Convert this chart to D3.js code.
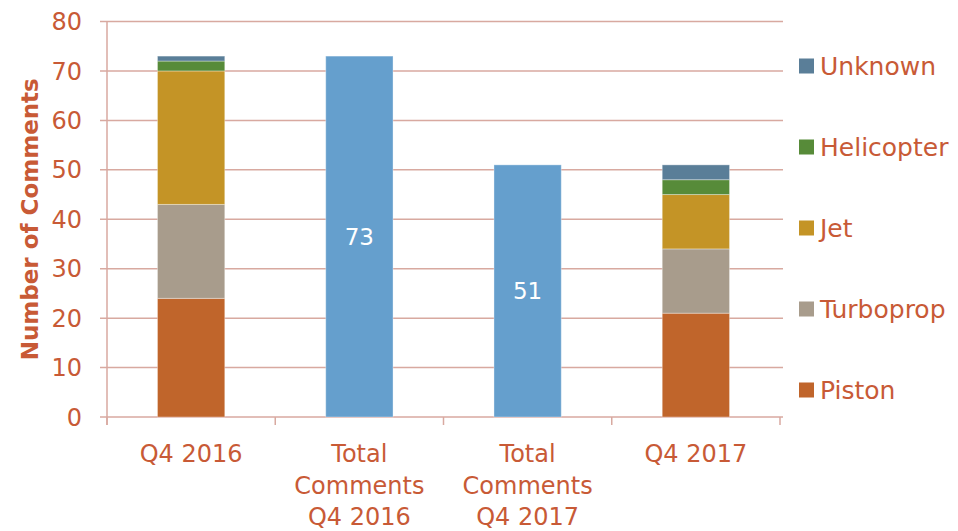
<!DOCTYPE html>
<html lang="en">
<head>
    <meta charset="UTF-8">
    <title>Number of Comments</title>
    <style>
        body { margin: 0; background: #fff; }
        svg { display: block; font-family: "DejaVu Sans", sans-serif; }
        .grid line { stroke: #d8a9a0; stroke-width: 1.5; }
        .label { fill: #c85a36; }
    </style>
</head>
<body>
    <div id="chart"></div>
    <script src="https://d3js.org/d3.v7.min.js"></script>
    <script>
        // Data
        const categories = ["Q4 2016", "Total Comments Q4 2016", "Total Comments Q4 2017", "Q4 2017"];
        const categoryLines = [["Q4 2016"], ["Total", "Comments", "Q4 2016"], ["Total", "Comments", "Q4 2017"], ["Q4 2017"]];
        const seriesNames = ["Piston", "Turboprop", "Jet", "Helicopter", "Unknown"];
        const seriesColors = ["#c0652b", "#a89c8c", "#c49426", "#578b39", "#5a7e98"];
        const piston = [24, 0, 0, 21];
        const turboprop = [19, 0, 0, 13];
        const jet = [27, 0, 0, 11];
        const helicopter = [2, 0, 0, 3];
        const unknown = [1, 0, 0, 3];
        const totals = [0, 73, 51, 0];
        const yTicks = [0, 10, 20, 30, 40, 50, 60, 70, 80];

        const width = 958, height = 531;
        const margin = { left: 107, right: 178, top: 21.5, bottom: 114 };

        const svg = d3.select("#chart").append("svg")
            .attr("width", width)
            .attr("height", height);

        const x = d3.scaleBand()
            .domain(categories)
            .range([margin.left, width - margin.right])
            .paddingInner(0).paddingOuter(0);

        const y = d3.scaleLinear()
            .domain([0, 80])
            .range([height - margin.bottom, margin.top]);

        // Gridlines + y ticks
        const grid = svg.append("g").attr("class", "grid");
        grid.selectAll("line.h")
            .data(yTicks)
            .enter().append("line")
            .attr("x1", margin.left - 7)
            .attr("x2", width - margin.right + 3)
            .attr("y1", d => y(d))
            .attr("y2", d => y(d));

        // y axis line
        grid.append("line")
            .attr("x1", margin.left).attr("x2", margin.left)
            .attr("y1", y(80)).attr("y2", y(0) + 8);

        // x ticks at band boundaries
        const bounds = categories.map(c => x(c)).concat([x.range()[1]]);
        grid.selectAll("line.v")
            .data(bounds)
            .enter().append("line")
            .attr("x1", d => d).attr("x2", d => d)
            .attr("y1", y(0)).attr("y2", y(0) + 8);

        svg.append("g").selectAll("text")
            .data(yTicks)
            .enter().append("text")
            .attr("class", "label")
            .attr("x", margin.left - 25)
            .attr("y", d => y(d))
            .attr("dy", "0.36em")
            .attr("text-anchor", "end")
            .style("font-size", "24px")
            .text(d => d);

        // Stacked bars
        const rows = categories.map((c, i) => ({
            cat: c, Piston: piston[i], Turboprop: turboprop[i], Jet: jet[i],
            Helicopter: helicopter[i], Unknown: unknown[i]
        }));
        const stacked = d3.stack().keys(seriesNames)(rows);
        const color = d3.scaleOrdinal().domain(seriesNames).range(seriesColors);
        const barW = x.bandwidth() * 0.4;
        const barX = c => x(c) + (x.bandwidth() - barW) / 2;

        stacked.forEach(layer => {
            svg.append("g")
                .selectAll("rect")
                .data(layer.filter(d => d[1] > d[0]))
                .enter().append("rect")
                .attr("x", d => barX(d.data.cat))
                .attr("width", barW)
                .attr("y", d => y(d[1]))
                .attr("height", d => y(d[0]) - y(d[1]))
                .attr("fill", color(layer.key))
                .attr("stroke", "#ffffff")
                .attr("stroke-opacity", 0.35)
                .attr("stroke-width", 1);
        });

        // Total bars
        const totalData = categories.map((c, i) => ({ cat: c, v: totals[i] })).filter(d => d.v > 0);
        svg.append("g").selectAll("rect")
            .data(totalData)
            .enter().append("rect")
            .attr("x", d => barX(d.cat))
            .attr("width", barW)
            .attr("y", d => y(d.v))
            .attr("height", d => y(0) - y(d.v))
            .attr("fill", "#659fcd")
            .attr("stroke", "#ffffff")
            .attr("stroke-opacity", 0.35);

        svg.append("g").selectAll("text")
            .data(totalData)
            .enter().append("text")
            .attr("x", d => x(d.cat) + x.bandwidth() / 2)
            .attr("y", d => y(d.v / 2))
            .attr("dy", "0.36em")
            .attr("text-anchor", "middle")
            .attr("fill", "#ffffff")
            .style("font-size", "23px")
            .text(d => d.v);

        // Category labels
        const catG = svg.append("g");
        categories.forEach((c, i) => {
            const t = catG.append("text")
                .attr("class", "label")
                .attr("text-anchor", "middle")
                .style("font-size", "24px");
            categoryLines[i].forEach((line, j) => {
                t.append("tspan")
                    .attr("x", x(c) + x.bandwidth() / 2)
                    .attr("y", 462 + j * 31.5)
                    .text(line);
            });
        });

        // Y axis title
        svg.append("text")
            .attr("class", "label")
            .attr("transform", `translate(38,${(y(0) + y(80)) / 2}) rotate(-90)`)
            .attr("text-anchor", "middle")
            .style("font-size", "23px")
            .style("font-weight", "bold")
            .text("Number of Comments");

        // Legend (reverse order, top = Unknown)
        const legendNames = seriesNames.slice().reverse();
        const legend = svg.append("g").selectAll("g")
            .data(legendNames)
            .enter().append("g")
            .attr("transform", (d, i) => `translate(799,${66 + i * 81})`);
        legend.append("rect")
            .attr("y", -7.5)
            .attr("width", 15)
            .attr("height", 15)
            .attr("fill", d => color(d));
        legend.append("text")
            .attr("class", "label")
            .attr("x", 21)
            .attr("dy", "0.36em")
            .style("font-size", "25px")
            .text(d => d);
    </script>
</body>
</html>
